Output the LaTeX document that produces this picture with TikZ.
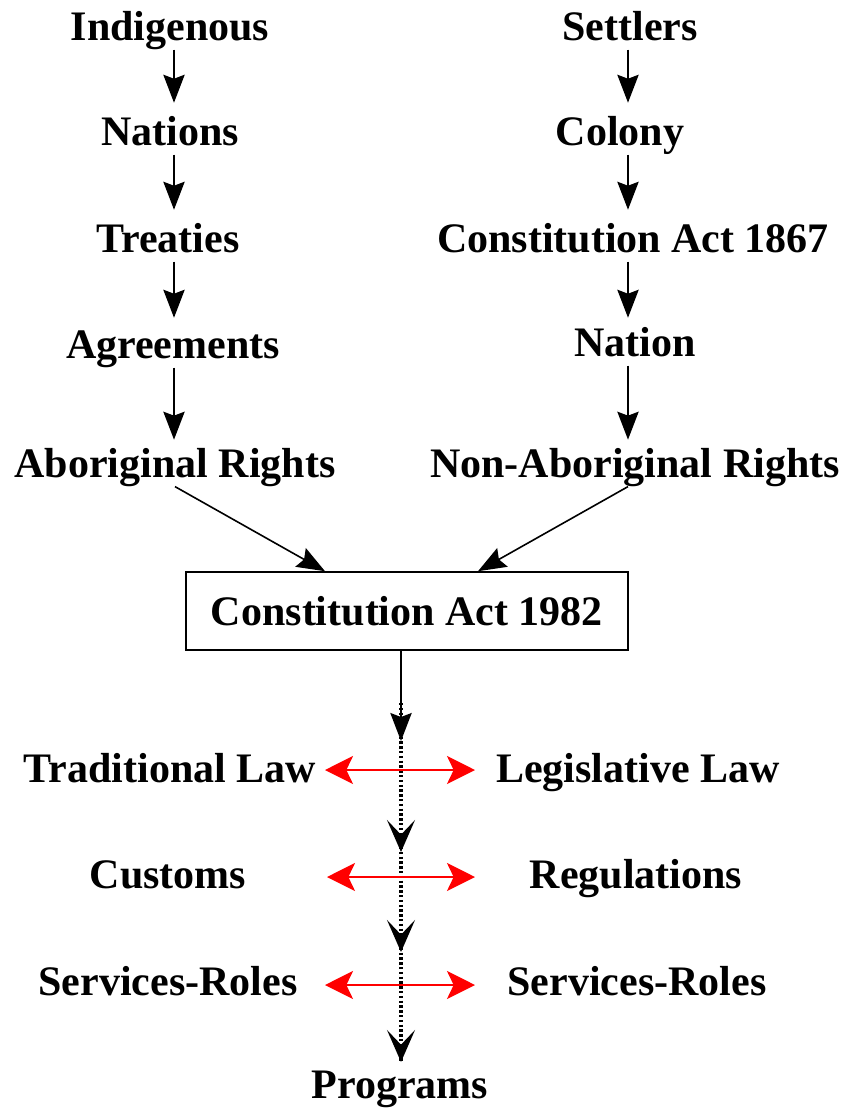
\documentclass[tikz,border=0pt]{standalone}
\usepackage{fontspec}
\setmainfont{Liberation Serif}
\usetikzlibrary{arrows.meta}
\begin{document}
\begin{tikzpicture}[x=0.75pt,y=-0.75pt,
  lbl/.style={anchor=base,inner sep=0pt,font=\fontsize{31.5}{36}\selectfont\bfseries,text height=22pt,text depth=7pt},
  arr/.style={draw=black,line width=1.2pt,-{Stealth[length=21pt,width=16pt,inset=3pt]}},
  redarr/.style={draw=red,line width=1.7pt,{Stealth[length=21pt,width=21pt,inset=5pt]}-{Stealth[length=21pt,width=21pt,inset=5pt]}},
  dotline/.style={draw=black,line width=2.4pt,dash pattern=on 1.8pt off 1.8pt},
  chev/.style={draw=black,line width=0.1pt,-{Stealth[length=24pt,width=21pt,inset=11pt,line width=1.6pt]}},
  boxstyle/.style={draw=black,line width=1.2pt,minimum width=331.5pt,minimum height=58.5pt,inner sep=0pt,font=\fontsize{31.5}{36}\selectfont\bfseries}
]
\useasboundingbox (0,0) rectangle (844,1110);
% left column
\node[lbl] (ind) at (170,40) {Indigenous};
\node[lbl] (nat) at (170,145) {Nations};
\node[lbl] (tre) at (168,252) {Treaties};
\node[lbl] (agr) at (173,358) {Agreements};
\node[lbl] (abr) at (175,477) {Aboriginal Rights};
% right column
\node[lbl] (set) at (630,40) {Settlers};
\node[lbl] (col) at (620,145) {Colony};
\node[lbl] (c67) at (633,252) {Constitution Act 1867};
\node[lbl] (nan) at (635,356) {Nation};
\node[lbl] (nab) at (635,477) {Non-Aboriginal Rights};
% box
\node[boxstyle] (c82) at (407,611) {Constitution Act 1982};
% bottom rows
\node[lbl] (tl) at (170,782) {Traditional Law};
\node[lbl] (ll) at (638,782) {Legislative Law};
\node[lbl] (cu) at (168,888) {Customs};
\node[lbl] (re) at (636,888) {Regulations};
\node[lbl] (sl) at (168,995) {Services-Roles};
\node[lbl] (sr) at (637,995) {Services-Roles};
\node[lbl] (pr) at (400,1098) {Programs};
% reference coordinates
\coordinate (lx) at (174,0);
\coordinate (rx) at (628,0);
\coordinate (cx) at (401,0);
\coordinate (el) at (325,0);
\coordinate (er) at (478,0);
% left column arrows
\draw[arr,shorten >=9.5pt] (ind.south -| lx) -- (nat.north -| lx);
\draw[arr,shorten >=9.5pt] (nat.south -| lx) -- (tre.north -| lx);
\draw[arr,shorten >=8pt] (tre.south -| lx) -- (agr.north -| lx);
\draw[arr,shorten >=5.8pt] (agr.south -| lx) -- (abr.north -| lx);
% right column arrows
\draw[arr,shorten >=9.5pt] (set.south -| rx) -- (col.north -| rx);
\draw[arr,shorten >=9.5pt] (col.south -| rx) -- (c67.north -| rx);
\draw[arr,shorten >=6.5pt] (c67.south -| rx) -- (nan.north -| rx);
\draw[arr,shorten >=5.8pt] (nan.south -| rx) -- (nab.north -| rx);
% diagonal arrows
\draw[arr] (abr.south) -- (c82.north -| el);
\draw[arr] (nab.south -| rx) -- (c82.north -| er);
% centre line
\coordinate (s1) at (401,741);
\coordinate (d0) at (401,703);
\coordinate (d1) at (401,852);
\coordinate (d2) at (401,952);
\coordinate (d3) at (401,1062);
\coordinate (u1) at (401,850);
\coordinate (u2) at (401,950);
\coordinate (u3) at (401,1060);
\draw[dotline] (d0) -- (d1) -- (d2) -- (d3);
\draw[chev] (u1) -- (d1);
\draw[chev] (u2) -- (d2);
\draw[chev] (u3) -- (d3);
\draw[arr] (c82.south -| cx) -- (s1);
% red double arrows
\coordinate (r1a) at (325,770);
\coordinate (r1b) at (475,770);
\coordinate (r2a) at (327,877);
\coordinate (r2b) at (475,877);
\coordinate (r3a) at (325,985);
\coordinate (r3b) at (475,985);
\draw[redarr] (r1a) -- (r1b);
\draw[redarr] (r2a) -- (r2b);
\draw[redarr] (r3a) -- (r3b);
\end{tikzpicture}
\end{document}
